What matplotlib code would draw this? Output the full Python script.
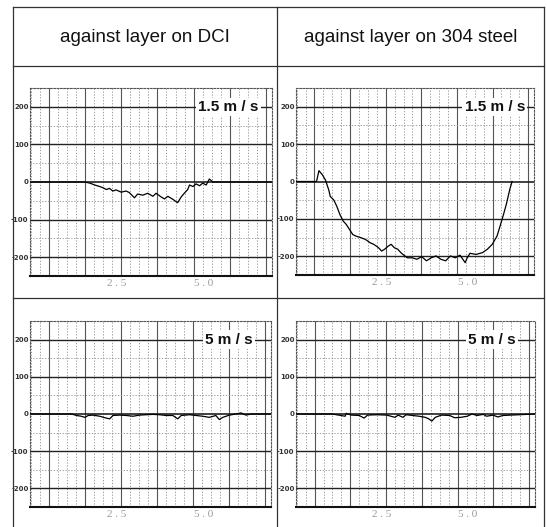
import numpy as np
import matplotlib
matplotlib.use("Agg")
import matplotlib.pyplot as plt
from matplotlib.lines import Line2D

# ── data ────────────────────────────────────────────────────────────────────
headers = ["against layer on DCI", "against layer on 304 steel"]
speeds = ["1.5 m / s", "5 m / s"]

dci_slow_x = [0.0, 1.57, 1.72, 1.86, 2.00, 2.09, 2.19, 2.28, 2.38, 2.47, 2.62, 2.76,
              2.85, 3.00, 3.09, 3.24, 3.38, 3.53, 3.62, 3.77, 3.86, 3.96, 4.10, 4.24,
              4.34, 4.43, 4.53, 4.58, 4.68, 4.77, 4.87, 4.96, 5.06, 5.15, 5.25, 6.95]
dci_slow_y = [0, 0, -3, -8, -12, -15, -20, -17, -24, -21, -27, -24,
              -28, -42, -32, -35, -30, -38, -30, -40, -45, -38, -46, -55,
              -40, -30, -20, -8, -12, -5, -10, -3, -8, 8, 0, 0]

ss_slow_x = [0.0, 0.60, 0.67, 0.77, 0.86, 0.955, 1.00, 1.10, 1.19, 1.28, 1.38, 1.47,
             1.56, 1.66, 1.75, 1.89, 2.03, 2.17, 2.27, 2.41, 2.50, 2.59, 2.69, 2.78,
             2.87, 2.97, 3.06, 3.15, 3.25, 3.39, 3.53, 3.67, 3.81, 3.95, 4.09, 4.23,
             4.37, 4.51, 4.65, 4.79, 4.94, 5.00, 5.08, 5.26, 5.45, 5.59, 5.73, 5.87,
             5.96, 6.06, 6.15, 6.24, 6.31]
ss_slow_y = [0, 0, 29, 18, 4, -22, -40, -49, -66, -88, -106, -115,
             -128, -142, -146, -150, -155, -164, -168, -177, -186, -181, -173, -168,
             -177, -181, -190, -197, -204, -204, -208, -201, -212, -204, -199, -208,
             -212, -199, -204, -197, -217, -204, -192, -195, -190, -181, -168, -146,
             -119, -88, -58, -22, 0]

dci_fast_x = [0.0, 1.20, 1.34, 1.48, 1.58, 1.68, 1.82, 2.01, 2.20, 2.30, 2.39, 2.59,
              2.78, 2.97, 3.16, 3.35, 3.54, 3.74, 3.93, 4.12, 4.26, 4.36, 4.60, 4.79,
              4.98, 5.17, 5.36, 5.46, 5.56, 5.75, 5.94, 6.08, 6.23, 6.37, 6.95]
dci_fast_y = [0, 0, -4, -6, -9, -4, -3, -6, -11, -13, -4, -3,
              -4, -6, -3, -2, -1, -2, -4, -4, -13, -4, -2, -4,
              -6, -9, -4, -15, -9, -3, 0, 3, -3, 0, 0]

ss_fast_x = [0.0, 1.05, 1.24, 1.43, 1.46, 1.61, 1.84, 1.98, 2.08, 2.36, 2.64, 2.88,
             2.97, 3.11, 3.20, 3.39, 3.58, 3.76, 3.86, 3.95, 4.05, 4.23, 4.47, 4.61,
             4.79, 4.98, 5.12, 5.26, 5.45, 5.54, 5.73, 5.87, 6.01, 6.95]
ss_fast_y = [0, 0, -3, -6, 2, -3, -4, -11, -3, -2, -3, -9,
             -3, -9, -2, -4, -6, -9, -13, -19, -9, -3, -4, -10, -9, -6,
             0, -4, -1, -6, -3, -8, -4, 0]

traces = [[(dci_slow_x, dci_slow_y), (ss_slow_x, ss_slow_y)],
          [(dci_fast_x, dci_fast_y), (ss_fast_x, ss_fast_y)]]

y_major = [-200, -100, 0, 100, 200]
y_minor = [-250, -150, -50, 50, 150, 250]
y_ticklabels = ["-200", "-100", "0", "100", "200"]
x_ticks = [2.5, 5.0]
x_ticklabels = ["2 . 5", "5 . 0"]

SANS = ["Liberation Sans", "DejaVu Sans"]

fig = plt.figure(figsize=(5.47, 5.27), dpi=100)
fig.patch.set_facecolor("white")

# ── table frame ─────────────────────────────────────────────────────────────
W, H = 547.0, 527.0
def fx(px): return px / W
def fy(py): return 1 - py / H

frame_kw = dict(color="#333333", lw=0.9, transform=fig.transFigure)
fig.add_artist(Line2D([fx(13), fx(544)], [fy(7), fy(7)], **frame_kw))
fig.add_artist(Line2D([fx(13), fx(544)], [fy(66), fy(66)], **frame_kw))
fig.add_artist(Line2D([fx(13), fx(544)], [fy(298), fy(298)], **frame_kw))
fig.add_artist(Line2D([fx(13), fx(13)], [fy(7), fy(527)], **frame_kw))
fig.add_artist(Line2D([fx(277), fx(277)], [fy(7), fy(527)], **frame_kw))
fig.add_artist(Line2D([fx(544), fx(544)], [fy(7), fy(527)], **frame_kw))

for col, head in enumerate(headers):
    cx = [145, 411][col]
    fig.text(fx(cx), fy(38), head, ha="center", va="center",
             fontsize=13.5, family=SANS, color="#111111")

# axes boxes in pixels: (left, top, right, bottom)
boxes = [[(30, 88, 272, 276), (296, 88, 534, 275)],
         [(30, 321, 271, 507), (296, 321, 535, 507)]]
label_x = [[0.82, 0.835], [0.826, 0.82]]

v_major = np.arange(0.54, 6.95, 1.04)
v_minor = np.arange(0.02, 6.95, 0.26)

for r in range(2):
    for c in range(2):
        l, t, rr, b = boxes[r][c]
        ax = fig.add_axes([fx(l), fy(b), fx(rr) - fx(l), fy(t) - fy(b)])
        ax.set_xlim(0, 6.95)
        ax.set_ylim(-250, 250)

        # oscilloscope-style grid
        for v in v_minor:
            if np.min(np.abs(v_major - v)) > 0.05:
                ax.axvline(v, color="#8a8a8a", lw=0.6, ls=(0, (1.5, 2)), zorder=1)
        for v in v_major:
            ax.axvline(v, color="#555555", lw=0.8, zorder=1)
        for h in y_minor:
            ax.axhline(h, color="#8a8a8a", lw=0.6, ls=(0, (1.5, 2)), zorder=1)
        for h in y_major:
            ax.axhline(h, color="#222222", lw=1.0 if h else 1.2, zorder=2)

        xs, ys = traces[r][c]
        ax.plot(xs, ys, color="black", lw=0.9, zorder=3)

        for side in ["top", "left", "right"]:
            ax.spines[side].set_color("#555555")
            ax.spines[side].set_linestyle((0, (1.5, 1.5)))
            ax.spines[side].set_linewidth(0.8)
        ax.spines["bottom"].set_color("#111111")
        ax.spines["bottom"].set_linewidth(1.5)

        ax.set_yticks(y_major)
        ax.set_yticklabels(y_ticklabels, fontsize=5, color="#333333",
                           family="DejaVu Sans Condensed", fontweight="bold")
        ax.set_xticks(x_ticks)
        ax.set_xticklabels(x_ticklabels, fontsize=8, color="#999999", family="Liberation Serif")
        ax.tick_params(length=0, pad=2)
        ax.tick_params(axis="y", pad=1)

        ax.text(label_x[r][c], 200, speeds[r],
                transform=ax.get_yaxis_transform(), ha="center", va="center",
                fontsize=11, fontweight="bold", family=SANS, color="#111111",
                bbox=dict(facecolor="white", edgecolor="none", pad=1.5), zorder=5)

fig.savefig("out.png", dpi=100, facecolor="white")
